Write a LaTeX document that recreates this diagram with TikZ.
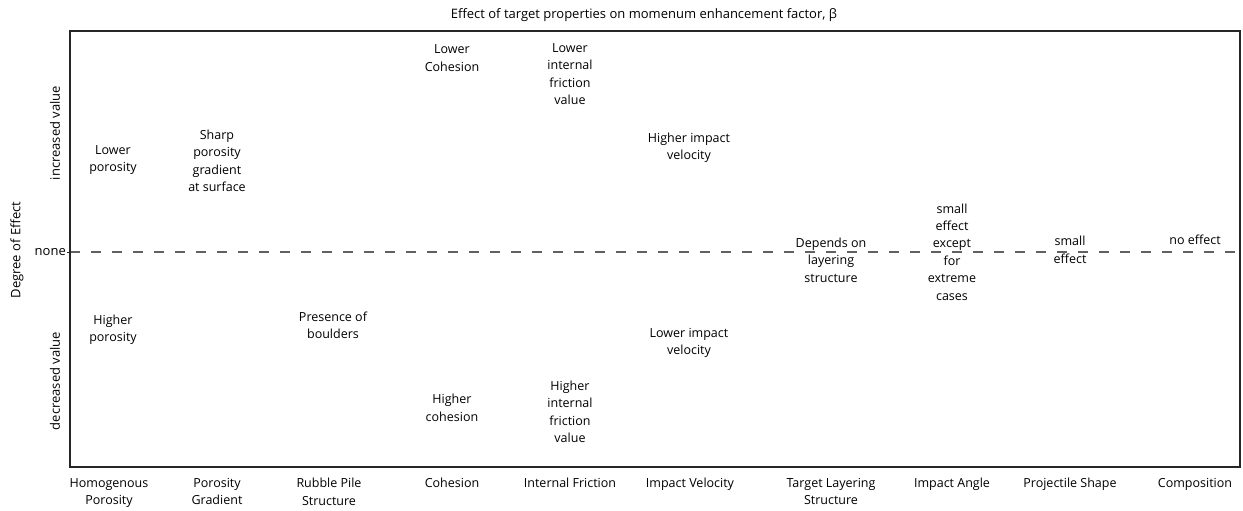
\documentclass[tikz,border=0pt]{standalone}
\usepackage{fontspec}
\setmainfont{Open Sans}
\begin{document}
\begin{tikzpicture}[x=1pt,y=-1pt,
  lbl/.style={align=center,font=\fontsize{12.5}{17.4}\selectfont,inner sep=0pt},
  axl/.style={font=\fontsize{13}{16}\selectfont,inner sep=0pt},
  frame/.style={draw=black!85,line width=1.3pt},
  zero/.style={draw=black!62,line width=1.4pt,dash pattern=on 10pt off 11pt}]
\useasboundingbox (0,0) rectangle (1243,511);
\coordinate (tl) at (70,31);
\coordinate (br) at (1240,467);
\coordinate (zl) at (70,252);
\coordinate (zr) at (1240,252);
\coordinate (tk) at (67,252);
\draw[zero] (zl) -- (zr);
\draw[frame] (tl) rectangle (br);
\draw[draw=black!85,line width=1pt] (tk) -- (zl);
% title
\node[axl] (title) at (644,15) {Effect of target properties on momenum enhancement factor, β};
% y axis
\node[axl,anchor=east] (none) at (66,252) {none};
\node[axl,rotate=90] (inc) at (55,133) {increased value};
\node[axl,rotate=90] (dec) at (55,381) {decreased value};
\node[axl,rotate=90] (deg) at (17,250) {Degree of Effect};
% categories
\node[lbl,anchor=north] (c1) at (109,478) {Homogenous\\Porosity};
\node[lbl,anchor=north] (c2) at (217,478) {Porosity\\Gradient};
\node[lbl,anchor=north] (c3) at (329,478) {Rubble Pile\\Structure};
\node[lbl,anchor=north] (c4) at (452,478) {Cohesion};
\node[lbl,anchor=north] (c5) at (570,478) {Internal Friction};
\node[lbl,anchor=north] (c6) at (690,478) {Impact Velocity};
\node[lbl,anchor=north] (c7) at (831,478) {Target Layering\\Structure};
\node[lbl,anchor=north] (c8) at (952,478) {Impact Angle};
\node[lbl,anchor=north] (c9) at (1070,478) {Projectile Shape};
\node[lbl,anchor=north] (c10) at (1195,478) {Composition};
% entries
\node[lbl] (a1) at (113,160) {Lower\\porosity};
\node[lbl] (a2) at (217,161) {Sharp\\porosity\\gradient\\at surface};
\node[lbl] (b1) at (113,330) {Higher\\porosity};
\node[lbl] (b3) at (333,325) {Presence of\\boulders};
\node[lbl] (a4) at (452,58) {Lower\\Cohesion};
\node[lbl] (b4) at (452,408) {Higher\\cohesion};
\node[lbl] (a5) at (570,74) {Lower\\internal\\friction\\value};
\node[lbl] (b5) at (570,412) {Higher\\internal\\friction\\value};
\node[lbl] (a6) at (689,148) {Higher impact\\velocity};
\node[lbl] (b6) at (689,343) {Lower impact\\velocity};
\node[lbl] (n7) at (831,260) {Depends on\\layering\\structure};
\node[lbl] (n8) at (952,252) {small\\effect\\except\\for\\extreme\\cases};
\node[lbl] (n9) at (1070,250) {small\\effect};
\node[lbl] (n10) at (1195,240) {no effect};
\end{tikzpicture}
\end{document}
